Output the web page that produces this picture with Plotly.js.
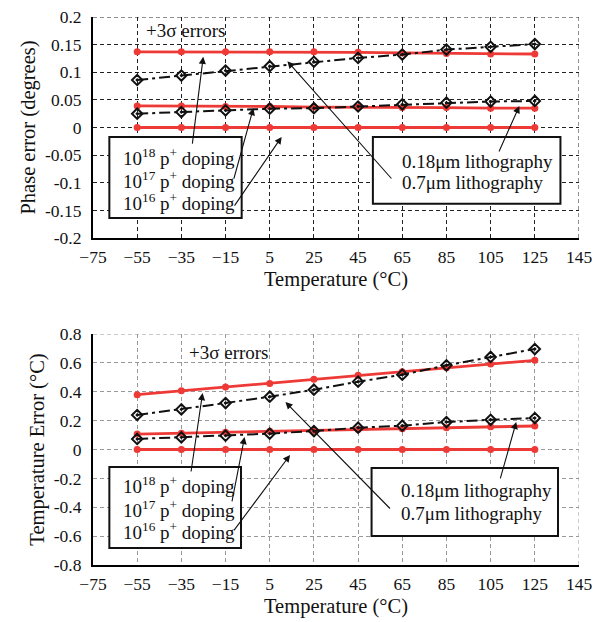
<!DOCTYPE html>
<html><head><meta charset="utf-8">
<script src="https://cdn.plot.ly/plotly-3.0.1.min.js"></script>
<style>body{margin:0;background:#fff}#c{width:611px;height:622px}</style>
</head><body><div id="c"></div>
<script>
const temps = [-55, -35, -15, 5, 25, 45, 65, 85, 105, 125];
const xTickVals = [-75, -55, -35, -15, 5, 25, 45, 65, 85, 105, 125, 145];
const xTickText = ['\u221275','\u221255','\u221235','\u221215','5','25','45','65','85','105','125','145'];

// Phase error (degrees)
const phase_1e18 = [0.137, 0.137, 0.137, 0.137, 0.137, 0.136, 0.135, 0.134, 0.133, 0.133];
const phase_1e17 = [0.039, 0.039, 0.038, 0.038, 0.037, 0.037, 0.036, 0.036, 0.035, 0.035];
const phase_1e16 = [0, 0, 0, 0, 0, 0, 0, 0, 0, 0];
const phase_07um = [0.086, 0.094, 0.103, 0.111, 0.119, 0.126, 0.132, 0.141, 0.146, 0.151];
const phase_018um = [0.025, 0.028, 0.031, 0.034, 0.035, 0.038, 0.042, 0.045, 0.047, 0.048];
const phaseTickVals = [0.2, 0.15, 0.1, 0.05, 0, -0.05, -0.1, -0.15, -0.2];
const phaseTickText = ['0.2','0.15','0.1','0.05','0','-0.05','-0.1','-0.15','-0.2'];

// Temperature error (°C)
const temp_1e18 = [0.380, 0.407, 0.433, 0.458, 0.486, 0.514, 0.539, 0.567, 0.592, 0.618];
const temp_1e17 = [0.107, 0.113, 0.119, 0.126, 0.132, 0.138, 0.144, 0.151, 0.157, 0.163];
const temp_1e16 = [0, 0, 0, 0, 0, 0, 0, 0, 0, 0];
const temp_07um = [0.239, 0.278, 0.322, 0.366, 0.414, 0.470, 0.518, 0.583, 0.641, 0.696];
const temp_018um = [0.073, 0.084, 0.096, 0.110, 0.128, 0.151, 0.165, 0.190, 0.206, 0.218];
const tempTickVals = [0.8, 0.6, 0.4, 0.2, 0, -0.2, -0.4, -0.6, -0.8];
const tempTickText = ['0.8','0.6','0.4','0.2','0','-0.2','-0.4','-0.6','-0.8'];

const FONT = 'Liberation Serif, Times New Roman, serif';
const RED = '#ee3a36';
const GRIDDASH = '4px,3px';

function redTrace(y, xa, ya){
  return {x: temps, y: y, xaxis: xa, yaxis: ya, mode: 'lines+markers', type: 'scatter',
    line: {color: RED, width: 2.8}, marker: {color: RED, size: 7, symbol: 'circle'}, hoverinfo: 'skip'};
}
function blackTrace(y, xa, ya){
  return {x: temps, y: y, xaxis: xa, yaxis: ya, mode: 'lines+markers', type: 'scatter',
    line: {color: '#111', width: 2, dash: '11px,4px,3px,4px'},
    marker: {color: '#111', size: 8, symbol: 'diamond-open-dot', line: {color: '#111', width: 2}}, hoverinfo: 'skip'};
}

const data = [
  redTrace(phase_1e16, 'x', 'y'), redTrace(phase_1e17, 'x', 'y'), redTrace(phase_1e18, 'x', 'y'),
  blackTrace(phase_018um, 'x', 'y'), blackTrace(phase_07um, 'x', 'y'),
  redTrace(temp_1e16, 'x2', 'y2'), redTrace(temp_1e17, 'x2', 'y2'), redTrace(temp_1e18, 'x2', 'y2'),
  blackTrace(temp_018um, 'x2', 'y2'), blackTrace(temp_07um, 'x2', 'y2')
];

function xAxis(domainAnchor, gridcolor){
  return {range: [-75, 145], tickvals: xTickVals, ticktext: xTickText, anchor: domainAnchor,
    showgrid: true, gridcolor: gridcolor, griddash: GRIDDASH, gridwidth: 1,
    showline: true, linecolor: '#000', linewidth: 2, ticks: '', zeroline: false,
    ticklabelstandoff: 2,
    tickfont: {family: FONT, size: 17.5, color: '#111'},
    title: {text: 'Temperature (\u00b0C)', font: {family: FONT, size: 20.5, color: '#111'}, standoff: 6}};
}
function yAxis(domain, anchor, range, tv, tt, title, gridcolor){
  return {domain: domain, anchor: anchor, range: range, tickvals: tv, ticktext: tt,
    showgrid: true, gridcolor: gridcolor, griddash: GRIDDASH, gridwidth: 1,
    showline: true, linecolor: '#000', linewidth: 2, ticks: '', zeroline: false,
    ticklabelstandoff: 6,
    tickfont: {family: FONT, size: 17.5, color: '#111'},
    title: {text: title, font: {family: FONT, size: 20.5, color: '#111'}, standoff: 4}};
}

const shapes = [];
function box(xr, yr, x0, x1, y0, y1){
  shapes.push({type: 'rect', xref: xr, yref: yr, x0: x0, x1: x1, y0: y0, y1: y1,
    line: {color: '#111', width: 2}, fillcolor: '#ffffff', opacity: 1, layer: 'above'});
}
function edges(xr, yr, ytop, grid){
  shapes.push({type:'line', xref: xr, yref: yr, x0: -75, x1: 145, y0: ytop, y1: ytop, line:{color: grid, width:1, dash: GRIDDASH}, layer:'below'});
  shapes.push({type:'line', xref: xr, yref: yr, x0: 145, x1: 145, y0: -ytop, y1: ytop, line:{color: grid, width:1, dash: GRIDDASH}, layer:'below'});
}
edges('x','y',0.2,'#222');
edges('x2','y2',0.8,'#999');
box('x','y', -67.6, -7.7, -0.017, -0.164);
box('x','y', 51.7, 136.6, -0.017, -0.138);
box('x2','y2', -67.6, -8.0, -0.121, -0.682);
box('x2','y2', 51.1, 135.5, -0.128, -0.599);

const annotations = [];
function txt(xr, yr, x, y, t){
  annotations.push({xref: xr, yref: yr, x: x, y: y, text: t, showarrow: false, xanchor: 'left', yanchor: 'middle',
    font: {family: FONT, size: 19, color: '#111'}});
}
function arr(xr, yr, hx, hy, tx, ty){
  annotations.push({xref: xr, yref: yr, axref: xr, ayref: yr, x: hx, y: hy, ax: tx, ay: ty, text: '',
    showarrow: true, arrowhead: 2, arrowsize: 1.3, arrowwidth: 1.1, arrowcolor: '#111'});
}
// top chart
txt('x','y', -51.9, 0.175, '+3\u03c3 errors');
txt('x','y', -62.3, -0.053, '10<sup>18</sup> p<sup>+</sup> doping');
txt('x','y', -62.3, -0.095, '10<sup>17</sup> p<sup>+</sup> doping');
txt('x','y', -62.3, -0.135, '10<sup>16</sup> p<sup>+</sup> doping');
txt('x','y', 63.9, -0.061, '0.18\u03bcm lithography');
txt('x','y', 63.9, -0.100, '0.7\u03bcm lithography');
arr('x','y', -25.1, 0.128, -30.1, -0.032);
arr('x','y', -2.4, 0.035, -11.4, -0.095);
arr('x','y', 10.4, -0.017, -11.4, -0.144);
arr('x','y', 13.0, 0.120, 60.7, -0.095);
arr('x','y', 118.0, 0.039, 108.5, -0.046);
// bottom chart
txt('x2','y2', -32.3, 0.675, '+3\u03c3 errors');
txt('x2','y2', -62.3, -0.246, '10<sup>18</sup> p<sup>+</sup> doping');
txt('x2','y2', -62.3, -0.412, '10<sup>17</sup> p<sup>+</sup> doping');
txt('x2','y2', -62.3, -0.564, '10<sup>16</sup> p<sup>+</sup> doping');
txt('x2','y2', 63.3, -0.287, '0.18\u03bcm lithography');
txt('x2','y2', 63.3, -0.440, '0.7\u03bcm lithography');
arr('x2','y2', -25.4, 0.391, -30.7, -0.163);
arr('x2','y2', -6.4, 0.087, -12.2, -0.370);
arr('x2','y2', 14.2, -0.038, -11.7, -0.571);
arr('x2','y2', 12.1, 0.329, 60.1, -0.419);
arr('x2','y2', 116.6, 0.191, 109.2, -0.211);

const layout = {
  width: 611, height: 622, showlegend: false,
  paper_bgcolor: '#fff', plot_bgcolor: '#fff',
  margin: {l: 93, r: 32, t: 17, b: 57},
  font: {family: FONT, color: '#111'},
  xaxis: xAxis('y', '#222'),
  yaxis: yAxis([0.5967, 1], 'x', [-0.2, 0.2], phaseTickVals, phaseTickText, 'Phase error (degrees)', '#222'),
  xaxis2: xAxis('y2', '#999'),
  yaxis2: yAxis([0, 0.4215], 'x2', [-0.8, 0.8], tempTickVals, tempTickText, 'Temperature Error (\u00b0C)', '#999'),
  shapes: shapes, annotations: annotations
};
Plotly.newPlot('c', data, layout, {staticPlot: true});
</script></body></html>
